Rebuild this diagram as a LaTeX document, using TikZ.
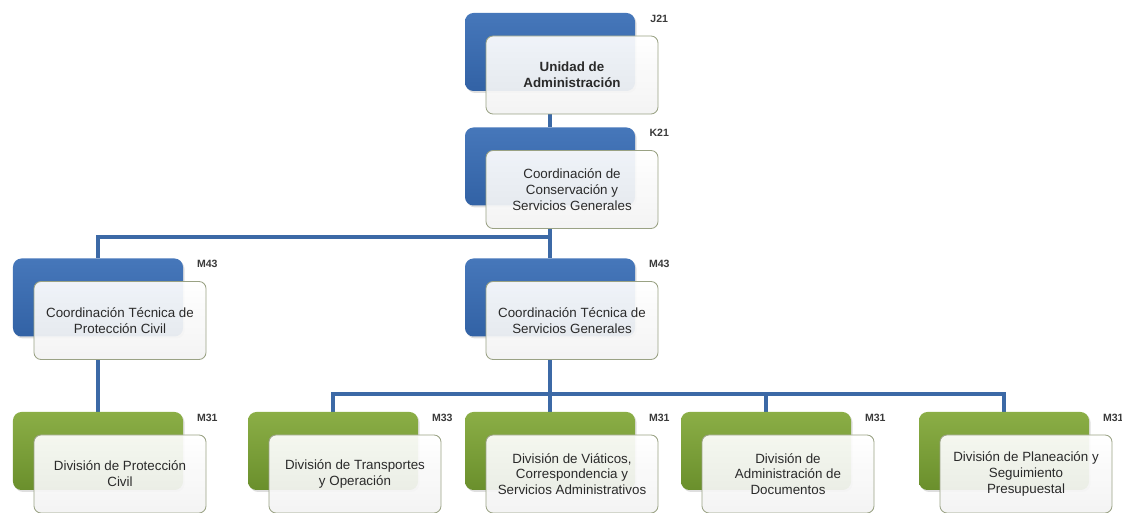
\documentclass[tikz,border=0pt]{standalone}
\usepackage{fontspec}
\setmainfont{Liberation Sans}
\usepackage{xcolor}
\usetikzlibrary{shapes,positioning,calc,backgrounds,shadows}

\definecolor{blueTop}{HTML}{4677BA}
\definecolor{blueBot}{HTML}{3262A5}
\definecolor{greenTop}{HTML}{8BAE46}
\definecolor{greenBot}{HTML}{6A8F2C}
\definecolor{cardEdge}{HTML}{9AA284}
\definecolor{linkBlue}{HTML}{3C69A6}
\definecolor{codeGray}{HTML}{3A3A3A}
\definecolor{cardText}{HTML}{2A2A2A}

\begin{document}
\begin{tikzpicture}[
    backbox/.style={rectangle, rounded corners=6pt, minimum width=4.25cm, minimum height=1.95cm,
        drop shadow={opacity=0.25, shadow xshift=0.04cm, shadow yshift=-0.05cm}},
    bluebox/.style={backbox, top color=blueTop, bottom color=blueBot},
    greenbox/.style={backbox, top color=greenTop, bottom color=greenBot},
    card/.style={rectangle, rounded corners=5pt, draw=cardEdge, line width=0.6pt,
        top color=white, bottom color=black!5, fill opacity=0.92, text opacity=1,
        minimum width=4.3cm, minimum height=1.95cm, align=center, text=cardText,
        font=\fontsize{9.5}{11.2}\selectfont},
    code/.style={font=\fontsize{7.5}{9}\selectfont\bfseries, text=codeGray, inner sep=0pt},
    link/.style={draw=linkBlue, line width=2.2pt},
]
    \useasboundingbox (0,0) rectangle (28.05,12.825);

    % level 1
    \node[bluebox] (j21b) at (13.75,11.525) {};
    \node[card, font=\fontsize{9.5}{11.2}\selectfont\bfseries] (j21) at ($(j21b)+(0.55,-0.575)$) {Unidad de\\Administración};
    \node[code] (j21c) at ($(j21b.north east)+(0.6,-0.15)$) {J21};

    % level 2
    \node[bluebox] (k21b) at (13.75,8.6625) {};
    \node[card] (k21) at ($(k21b)+(0.55,-0.575)$) {Coordinación de\\Conservación y\\Servicios Generales};
    \node[code] (k21c) at ($(k21b.north east)+(0.6,-0.15)$) {K21};

    % level 3
    \node[bluebox] (pcb) at (2.45,5.3875) {};
    \node[card] (pc) at ($(pcb)+(0.55,-0.575)$) {Coordinación Técnica de\\Protección Civil};
    \node[code] (pcc) at ($(pcb.north east)+(0.6,-0.15)$) {M43};

    \node[bluebox] (sgb) at (13.75,5.3875) {};
    \node[card] (sg) at ($(sgb)+(0.55,-0.575)$) {Coordinación Técnica de\\Servicios Generales};
    \node[code] (sgc) at ($(sgb.north east)+(0.6,-0.15)$) {M43};

    % level 4
    \node[greenbox] (dpcb) at (2.45,1.55) {};
    \node[card] (dpc) at ($(dpcb)+(0.55,-0.575)$) {División de Protección\\Civil};
    \node[code] (dpcc) at ($(dpcb.north east)+(0.6,-0.15)$) {M31};

    \node[greenbox] (dtob) at (8.325,1.55) {};
    \node[card] (dto) at ($(dtob)+(0.55,-0.575)$) {División de Transportes\\y Operación};
    \node[code] (dtoc) at ($(dtob.north east)+(0.6,-0.15)$) {M33};

    \node[greenbox] (dvcb) at (13.75,1.55) {};
    \node[card] (dvc) at ($(dvcb)+(0.55,-0.575)$) {División de Viáticos,\\Correspondencia y\\Servicios Administrativos};
    \node[code] (dvcc) at ($(dvcb.north east)+(0.6,-0.15)$) {M31};

    \node[greenbox] (dadb) at (19.15,1.55) {};
    \node[card] (dad) at ($(dadb)+(0.55,-0.575)$) {División de\\Administración de\\Documentos};
    \node[code] (dadc) at ($(dadb.north east)+(0.6,-0.15)$) {M31};

    \node[greenbox] (dpsb) at (25.1,1.55) {};
    \node[card] (dps) at ($(dpsb)+(0.55,-0.575)$) {División de Planeación y\\Seguimiento\\Presupuestal};
    \node[code] (dpsc) at ($(dpsb.north east)+(0.6,-0.15)$) {M31};

    % connectors
    \coordinate (busA) at (0,6.9);
    \coordinate (busB) at (0,2.975);
    \begin{scope}[on background layer]
        \draw[link] (j21.south -| j21b) -- (k21b.north);
        \draw[link] (k21.south -| k21b) -- (busA -| k21b) -| (pcb.north);
        \draw[link] (busA -| k21b) -- (sgb.north);
        \draw[link] (pc.south -| pcb) -- (dpcb.north);
        \draw[link] (sg.south -| sgb) -- (busB -| sgb) -| (dtob.north);
        \draw[link] (busB -| sgb) -- (dvcb.north);
        \draw[link] (busB -| sgb) -| (dadb.north);
        \draw[link] (busB -| dadb) -| (dpsb.north);
    \end{scope}
\end{tikzpicture}
\end{document}
